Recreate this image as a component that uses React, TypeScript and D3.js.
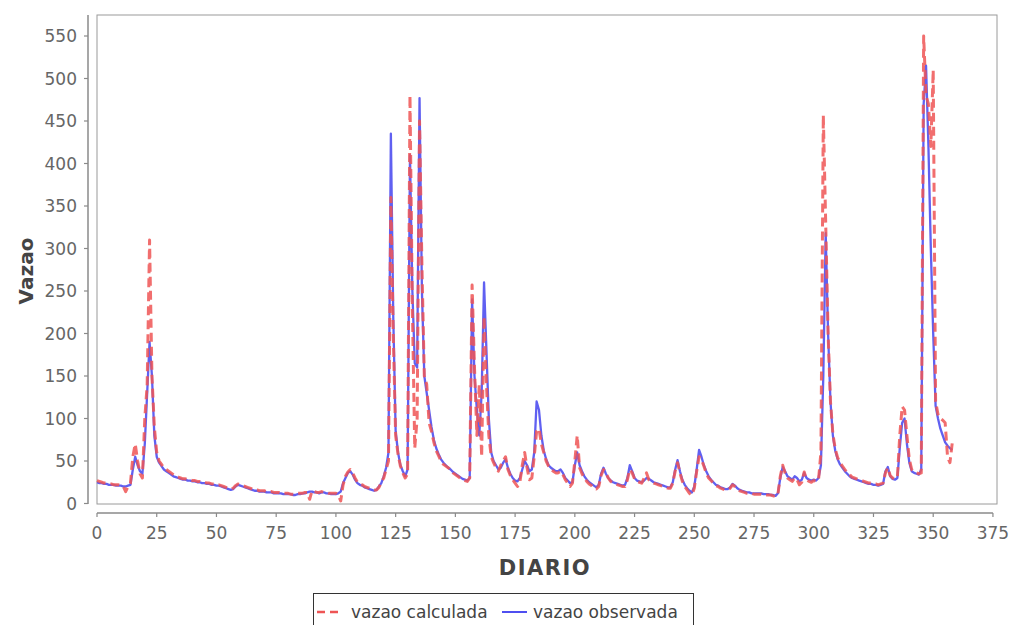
import React from "react";
import * as d3 from "d3";

const observada: number[] = [
  25, 24, 24, 23, 23, 22, 22, 22, 21, 21,
  21, 20, 20, 21, 22, 40, 55, 45, 38, 35,
  70, 130, 190, 150, 80, 55, 48, 44, 40, 38,
  36, 34, 32, 31, 30, 29, 28, 28, 27, 27,
  26, 26, 25, 25, 24, 24, 23, 23, 22, 22,
  21, 21, 20, 19, 18, 17, 16, 17, 20, 22,
  21, 20, 19, 18, 17, 16, 15, 15, 14, 14,
  14, 13, 13, 13, 12, 12, 12, 12, 11, 11,
  11, 11, 10, 10, 11, 11, 12, 12, 13, 14,
  14, 13, 13, 12, 13, 13, 12, 12, 11, 11,
  11, 12, 14, 24, 30, 36, 38, 34, 28, 24,
  22, 21, 19, 18, 17, 16, 15, 16, 20, 24,
  32, 42, 60, 435, 220, 85, 60, 45, 38, 32,
  40, 410, 250, 165, 160, 477, 250, 150, 130, 110,
  90, 75, 65, 58, 52, 48, 45, 42, 40, 37,
  35, 33, 31, 29, 28, 27, 30, 240, 150, 110,
  80, 130, 260, 180, 100, 60, 50, 45, 40, 42,
  48, 52, 42, 35, 30, 27, 26, 30, 40, 50,
  45, 38, 40, 60, 120, 110, 80, 62, 52, 45,
  42, 40, 38, 38, 40, 36, 30, 27, 24, 25,
  45, 60, 45, 38, 32, 28, 25, 23, 21, 19,
  22, 35, 42, 35, 30, 27, 25, 24, 23, 22,
  21, 22, 30, 45, 38, 30, 27, 26, 25, 27,
  30, 29, 27, 25, 24, 23, 22, 21, 20, 19,
  19, 25, 40, 51, 38, 28, 22, 18, 15, 13,
  20, 40, 63, 55, 45, 38, 32, 28, 25, 22,
  21, 19, 18, 17, 17, 19, 23, 21, 18, 16,
  15, 14, 13, 13, 12, 12, 12, 12, 12, 11,
  11, 11, 10, 10, 9, 12, 30, 43, 38, 32,
  30, 28, 32, 30, 26, 28, 36, 30, 28, 27,
  28, 27, 30, 45, 150, 318, 200, 120, 80, 62,
  52, 46, 42, 38, 35, 32, 30, 29, 28, 27,
  26, 25, 24, 23, 23, 22, 22, 21, 22, 23,
  38, 43, 32, 29, 28, 30, 65, 95, 100, 70,
  48, 38, 36, 35, 34, 40, 470, 515, 420, 300,
  200, 115, 100, 88, 80, 72, 68, 65, 63,
];

const calculada: number[] = [
  27, 26, 25, 24, 24, 23, 23, 22, 22, 22,
  21, 20, 14, 20, 24, 55, 70, 50, 35, 30,
  100, 140, 310, 150, 90, 60, 50, 46, 42, 40,
  38, 36, 34, 32, 31, 30, 29, 29, 28, 28,
  27, 27, 26, 26, 25, 25, 24, 24, 23, 23,
  22, 22, 21, 20, 19, 18, 17, 18, 21, 23,
  22, 21, 20, 19, 18, 17, 16, 16, 15, 15,
  15, 14, 14, 14, 13, 13, 13, 12, 12, 12,
  12, 11, 11, 11, 12, 12, 12, 13, 13, 5,
  15, 14, 13, 13, 14, 13, 13, 12, 12, 12,
  12, 10, 3, 22, 32, 37, 40, 36, 30, 25,
  23, 22, 20, 19, 18, 17, 16, 16, 19, 25,
  30, 40, 50, 360, 200, 80, 58, 44, 36, 30,
  35, 480, 230, 65, 100, 450, 280, 150, 140, 95,
  85, 72, 62, 56, 50, 46, 44, 42, 40, 36,
  34, 32, 30, 28, 27, 26, 30, 257, 160, 80,
  140, 55, 220, 140, 80, 55, 48, 42, 38, 45,
  50, 55, 40, 33, 28, 24, 20, 25, 45, 60,
  42, 28, 30, 55, 85, 88, 70, 60, 50, 44,
  40, 38, 36, 36, 38, 34, 28, 24, 20, 24,
  50, 80, 42, 35, 30, 26, 23, 21, 18, 17,
  20, 33, 40, 36, 30, 26, 24, 23, 22, 21,
  20, 20, 28, 40, 36, 29, 26, 25, 24, 30,
  36, 28, 26, 24, 23, 22, 21, 20, 19, 18,
  18, 24, 38, 48, 36, 26, 20, 16, 12, 10,
  18, 38, 55, 52, 44, 36, 30, 27, 24, 21,
  20, 18, 17, 16, 16, 18, 22, 20, 17, 15,
  14, 13, 12, 12, 12, 11, 11, 11, 11, 10,
  10, 10, 10, 9, 8, 11, 32, 45, 36, 30,
  28, 26, 30, 28, 22, 25, 37, 28, 26, 25,
  27, 26, 28, 60, 457, 330, 200, 120, 82, 64,
  54, 48, 44, 40, 36, 34, 31, 30, 29, 28,
  27, 26, 25, 24, 24, 23, 23, 22, 23, 24,
  36, 42, 33, 30, 29, 31, 80, 114, 110, 80,
  52, 40, 37, 36, 35, 36, 550, 480, 470, 420,
  510, 120, 105, 100, 98, 95, 55, 48, 72,
];

const xTicks: number[] = [0, 25, 50, 75, 100, 125, 150, 175, 200, 225, 250, 275, 300, 325, 350, 375];
const yTicks: number[] = [0, 50, 100, 150, 200, 250, 300, 350, 400, 450, 500, 550];
const seriesNames: string[] = ["vazao calculada", "vazao observada"];

export default function App() {
  const W = 1013, H = 625;
  const left = 97, right = 997, top = 15, bottom = 504;
  const x = d3.scaleLinear().domain([0, 376.7]).range([left, right]);
  const y = d3.scaleLinear().domain([0, 575]).range([503.5, 503.5 - 575 * 0.85]);
  const line = d3.line<number>().x((_, i) => x(i)).y((d) => y(d));
  const axisColor = "#8a8a8a";
  const labelColor = "#666";
  const font = "DejaVu Sans, Verdana, sans-serif";
  const red = "#ee5555";
  const blue = "#4f4ff0";
  const yAxisX = 88;
  const xAxisY = 513;

  return (
    <svg width={W} height={H} style={{ position: "absolute", left: 0, top: 0, background: "#fff" }} fontFamily={font}>
      <rect x={0} y={0} width={W} height={H} fill="#fff" />
      <rect x={left} y={top} width={right - left} height={bottom - top} fill="#fff" stroke="#9a9a9a" strokeWidth={1} />
      <line x1={yAxisX} x2={yAxisX} y1={top} y2={bottom} stroke={axisColor} strokeWidth={1.5} />
      {yTicks.map((t) => (
        <g key={"y" + t}>
          <line x1={yAxisX - 4} x2={yAxisX} y1={y(t)} y2={y(t)} stroke={axisColor} strokeWidth={1.2} />
          <text x={77} y={y(t)} dy="0.36em" textAnchor="end" fontSize={17} fill={labelColor}>{t}</text>
        </g>
      ))}
      <line x1={left} x2={x(375)} y1={xAxisY} y2={xAxisY} stroke={axisColor} strokeWidth={1.5} />
      {xTicks.map((t) => (
        <g key={"x" + t}>
          <line x1={x(t)} x2={x(t)} y1={xAxisY} y2={xAxisY + 4} stroke={axisColor} strokeWidth={1.2} />
          <text x={x(t)} y={539} textAnchor="middle" fontSize={17} fill={labelColor}>{t}</text>
        </g>
      ))}
      <text x={545} y={575} textAnchor="middle" fontSize={21} fontWeight="bold" fill="#444" letterSpacing={1.5}>DIARIO</text>
      <text transform={`translate(33,271) rotate(-90)`} textAnchor="middle" fontSize={20} fontWeight="bold" fill="#444">Vazao</text>
      <path d={line(observada) || ""} fill="none" stroke={blue} strokeWidth={2.3} strokeLinejoin="round" opacity={0.9} />
      <path d={line(calculada) || ""} fill="none" stroke={red} strokeWidth={3} strokeDasharray="9,5" strokeLinejoin="round" opacity={0.85} />
      <rect x={313.5} y={593.5} width={380} height={40} fill="#fff" stroke="#333" strokeWidth={1} />
      <line x1={317} x2={343} y1={612} y2={612} stroke={red} strokeWidth={2.6} strokeDasharray="8,5" />
      <text x={351} y={618} fontSize={17} fill="#444">{seriesNames[0]}</text>
      <line x1={502} x2={527} y1={612} y2={612} stroke={blue} strokeWidth={2} />
      <text x={533} y={618} fontSize={17} fill="#444">{seriesNames[1]}</text>
    </svg>
  );
}
